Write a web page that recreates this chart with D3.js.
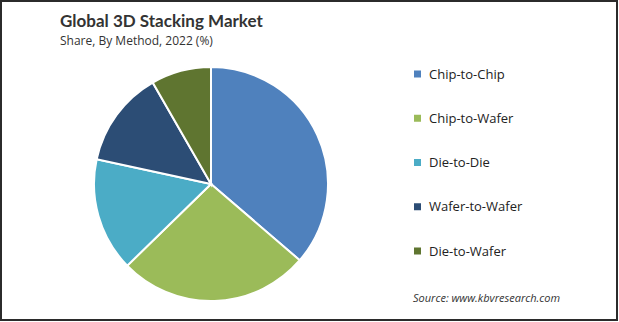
<!DOCTYPE html>
<html>
<head>
<meta charset="utf-8">
<script src="https://cdn.jsdelivr.net/npm/d3@7"></script>
<style>
  body { margin: 0; background: #fff; }
  svg { display: block; font-family: "Open Sans", "DejaVu Sans", sans-serif; }
</style>
</head>
<body>
<div id="chart"></div>
<script>
var svgWidth = 619;
var svgHeight = 322;

// chart data
var methods = ["Chip-to-Chip", "Chip-to-Wafer", "Die-to-Die", "Wafer-to-Wafer", "Die-to-Wafer"];
var shares = [36.3, 26.4, 15.7, 13.3, 8.3];
var colors = ["#4f81bd", "#9bbb59", "#4bacc6", "#2c4d75", "#5f7530"];

var data = methods.map(function(m, i) {
  return { method: m, share: shares[i] };
});

var svg = d3.select("#chart")
  .append("svg")
  .attr("width", svgWidth)
  .attr("height", svgHeight);

// frame
svg.append("rect")
  .attr("x", 1)
  .attr("y", 1)
  .attr("width", 616)
  .attr("height", 319)
  .attr("fill", "none")
  .attr("stroke", "#2b2b2b")
  .attr("stroke-width", 2);

// titles
svg.append("text")
  .attr("x", 60)
  .attr("y", 27)
  .attr("font-family", "Lato, 'Open Sans', sans-serif")
  .attr("font-size", "17px")
  .attr("font-weight", "bold")
  .attr("fill", "#333")
  .text("Global 3D Stacking Market");

svg.append("text")
  .attr("x", 60)
  .attr("y", 45)
  .attr("font-size", "12px")
  .attr("fill", "#333")
  .text("Share, By Method,  2022 (%)");

// pie
var color = d3.scaleOrdinal().domain(methods).range(colors);

var pie = d3.pie()
  .sort(null)
  .value(function(d) { return d.share; });

var arc = d3.arc()
  .innerRadius(0)
  .outerRadius(117);

var pieGroup = svg.append("g")
  .attr("transform", "translate(211, 184)");

pieGroup.selectAll("path")
  .data(pie(data))
  .enter()
  .append("path")
  .attr("d", arc)
  .attr("fill", function(d) { return color(d.data.method); })
  .attr("stroke", "#fff")
  .attr("stroke-width", 2);

// legend
var legendY = d3.scalePoint()
  .domain(methods)
  .range([74, 251]);

var legend = svg.append("g")
  .selectAll("g")
  .data(methods)
  .enter()
  .append("g")
  .attr("transform", function(d) { return "translate(414, " + legendY(d) + ")"; });

legend.append("rect")
  .attr("x", 0)
  .attr("y", -3.5)
  .attr("width", 7)
  .attr("height", 7)
  .attr("fill", function(d) { return color(d); });

legend.append("text")
  .attr("x", 15)
  .attr("y", 0)
  .attr("dy", "0.35em")
  .attr("font-size", "13px")
  .attr("fill", "#222")
  .text(function(d) { return d; });

// source note
svg.append("text")
  .attr("x", 413)
  .attr("y", 302)
  .attr("font-size", "11px")
  .attr("font-style", "italic")
  .attr("fill", "#333")
  .text("Source: www.kbvresearch.com");
</script>
</body>
</html>
